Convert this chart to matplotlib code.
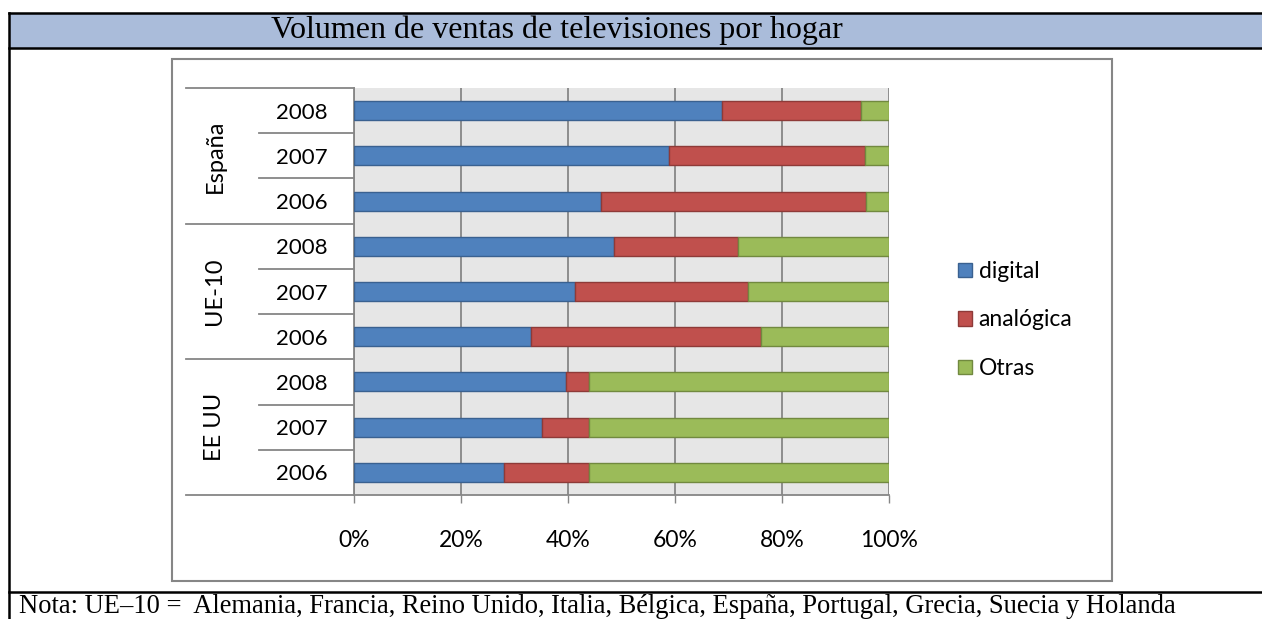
import matplotlib
matplotlib.use("Agg")
import matplotlib.pyplot as plt
import matplotlib.transforms as mtransforms
from matplotlib.patches import Rectangle, Patch
from matplotlib.lines import Line2D

# Datos (% del volumen de ventas)
grupos = ["España", "UE-10", "EE UU"]
anios = ["2008", "2007", "2006"]
digital = [68.7, 58.8, 46.1, 48.6, 41.4, 33.0, 39.7, 35.2, 28.1]
analogica = [26.1, 36.7, 49.6, 23.2, 32.2, 43.0, 4.2, 8.7, 15.8]
otras = [5.2, 4.5, 4.3, 28.2, 26.4, 24.0, 56.1, 56.1, 56.1]
series = ["digital", "analógica", "Otras"]
colores = ["#4F81BD", "#C0504D", "#9BBB59"]
bordes = ["#3A6190", "#8E3A38", "#71893F"]
ticks_x = [0, 20, 40, 60, 80, 100]

titulo = "Volumen de ventas de televisiones por hogar"
nota = "Nota: UE\u201310 =  Alemania, Francia, Reino Unido, Italia, Bélgica, España, Portugal, Grecia, Suecia y Holanda"

W, H = 1262, 619
gris = "#868686"
fuente = ["Lato", "DejaVu Sans"]
serif = ["Liberation Serif", "DejaVu Serif"]


def fx(x):
    return x / W


def fy(y):
    return 1 - y / H


fig = plt.figure(figsize=(W / 100, H / 100), dpi=100)

# marco de la tabla
fig.add_artist(Rectangle((fx(9), fy(47.5)), fx(1300) - fx(9), fy(13) - fy(47.5),
                         transform=fig.transFigure, facecolor="#AABCDA",
                         edgecolor="none", zorder=-2))
for (x0, y0, x1, y1) in [(9, 13, 1300, 13), (9, 47.5, 1300, 47.5),
                         (9, 592, 1300, 592), (9, 13, 9, 640)]:
    fig.add_artist(Line2D([fx(x0), fx(x1)], [fy(y0), fy(y1)], transform=fig.transFigure,
                          color="black", lw=1.8, zorder=5))

fig.text(fx(557), fy(30), titulo, ha="center", va="center", fontsize=23, family=serif)
fig.text(fx(19), fy(613), nota, ha="left", va="baseline", fontsize=19.1, family=serif)

# marco del grafico
fig.add_artist(Rectangle((fx(172), fy(581)), fx(1112) - fx(172), fy(59) - fy(581),
                         transform=fig.transFigure, facecolor="white",
                         edgecolor=gris, lw=1.5, zorder=-1))

ax = fig.add_axes([fx(354), fy(495), fx(889) - fx(354), fy(88) - fy(495)])
ax.set_facecolor("#E6E6E6")

pos = list(range(len(digital)))
izq = [0] * len(digital)
for vals, nombre, c, b in zip([digital, analogica, otras], series, colores, bordes):
    ax.barh(pos, vals, left=izq, height=0.42, color=c, edgecolor=b, lw=1, label=nombre, zorder=3)
    izq = [a + v for a, v in zip(izq, vals)]

ax.set_xlim(0, 100)
ax.set_ylim(len(pos) - 0.5, -0.5)
ax.set_xticks(ticks_x, [f"{t}%" for t in ticks_x])
ax.set_yticks(pos, anios * len(grupos))
ax.grid(axis="x", color=gris, lw=1.3, zorder=1)
for s in ["top", "right"]:
    ax.spines[s].set_visible(False)
for s in ["left", "bottom"]:
    ax.spines[s].set_color(gris)
    ax.spines[s].set_linewidth(1.3)
ax.tick_params(axis="x", length=6, width=1, color=gris, pad=19, labelsize=16.5)
ax.tick_params(axis="y", length=0, pad=19, labelsize=16)
for lab in ax.get_xticklabels() + ax.get_yticklabels():
    lab.set_family(fuente)

# eje de categorias en dos niveles
trans = mtransforms.blended_transform_factory(fig.transFigure, ax.transData)
n = len(anios)
for i in range(len(pos) + 1):
    y = i - 0.5
    x0 = 186 if i % n == 0 else 259
    ax.add_line(Line2D([fx(x0), fx(354)], [y, y], transform=trans, color=gris,
                       lw=1.3, clip_on=False))
for g, nombre in enumerate(grupos):
    ax.text(fx(215), g * n + (n - 1) / 2, nombre, transform=trans, rotation=90,
            ha="center", va="center", fontsize=17, family=fuente)

handles = [Patch(facecolor=c, edgecolor=b, lw=1) for c, b in zip(colores, bordes)]
leg = fig.legend(handles, series, loc="center left", bbox_to_anchor=(fx(958), fy(320)),
                 bbox_transform=fig.transFigure, frameon=False,
                 handlelength=0.6, handleheight=0.6, handletextpad=0.3,
                 labelspacing=1.2, borderpad=0, borderaxespad=0,
                 prop={"family": fuente, "size": 16.5})

fig.savefig("out.png", dpi=100)
